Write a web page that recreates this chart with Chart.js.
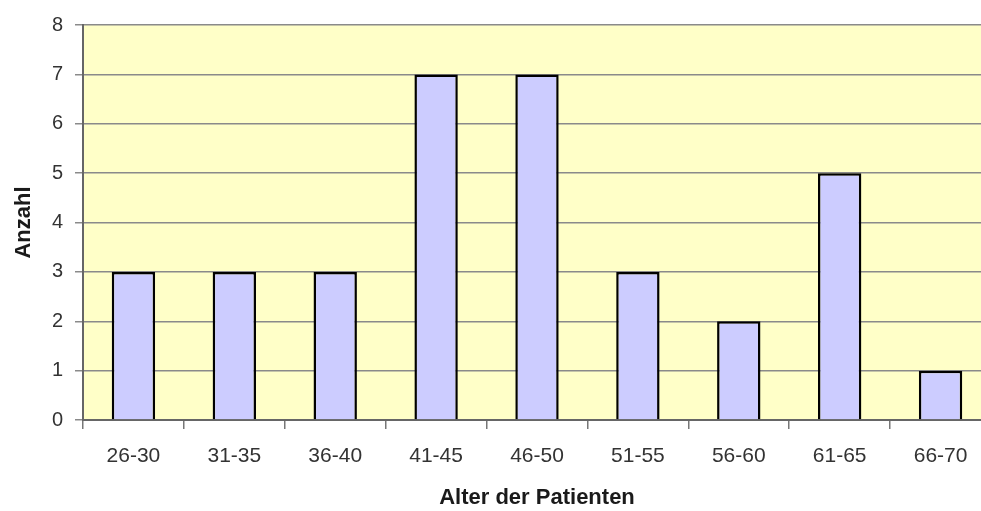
<!DOCTYPE html>
<html>
<head>
<meta charset="utf-8">
<script src="https://cdn.jsdelivr.net/npm/chart.js@4/dist/chart.umd.min.js"></script>
<style>
html,body{margin:0;padding:0;background:#fff;overflow:hidden;}
#wrap{position:relative;width:995px;height:511px;}
</style>
</head>
<body>
<div id="wrap"><canvas id="c"></canvas></div>
<script>
const categories = ["26-30","31-35","36-40","41-45","46-50","51-55","56-60","61-65","66-70"];
const counts = [3,3,3,7,7,3,2,5,1];
const yTicks = [0,1,2,3,4,5,6,7,8];
const xTitle = "Alter der Patienten";
const yTitle = "Anzahl";

const plotBg = {
  id:'plotBg',
  beforeDraw(chart){
    const {ctx, chartArea:a} = chart;
    ctx.save();
    ctx.fillStyle = '#FFFFC8';
    ctx.fillRect(a.left, a.top, a.right-a.left, a.bottom-a.top);
    ctx.restore();
  }
};

const fam = "'Liberation Sans', Arial, sans-serif";
new Chart(document.getElementById('c'), {
  type:'bar',
  data:{labels:categories, datasets:[{data:counts, backgroundColor:'#CCCCFF', borderColor:'#000', borderWidth:2.5, categoryPercentage:1, barPercentage:0.43}]},
  options:{
    responsive:true, maintainAspectRatio:false, animation:false,
    layout:{padding:{top:25,right:4,left:0,bottom:0}},
    plugins:{legend:{display:false}, tooltip:{enabled:false}},
    scales:{
      x:{
        grid:{drawOnChartArea:false, tickLength:9, color:'#777', lineWidth:1.5, offset:true},
        border:{color:'#666', width:2},
        ticks:{font:{family:fam, size:21}, color:'#333', padding:15, maxRotation:0},
        title:{display:true, text:xTitle, font:{family:fam, size:22, weight:'bold'}, color:'#1a1a1a', padding:{top:6,bottom:0}},
        afterFit(s){ s.height = 91; }
      },
      y:{
        min:0, max:8,
        afterBuildTicks(s){ s.ticks = yTicks.map(v=>({value:v})); },
        grid:{color:'#8a8a8a', lineWidth:1.5, tickLength:8},
        border:{color:'#666', width:2},
        ticks:{font:{family:fam, size:20}, color:'#333', padding:12},
        title:{display:true, text:yTitle, font:{family:fam, size:22, weight:'bold'}, color:'#1a1a1a', padding:{top:11,bottom:6}},
        afterFit(s){ s.width = 83; }
      }
    }
  },
  plugins:[plotBg]
});
</script>
</body>
</html>
